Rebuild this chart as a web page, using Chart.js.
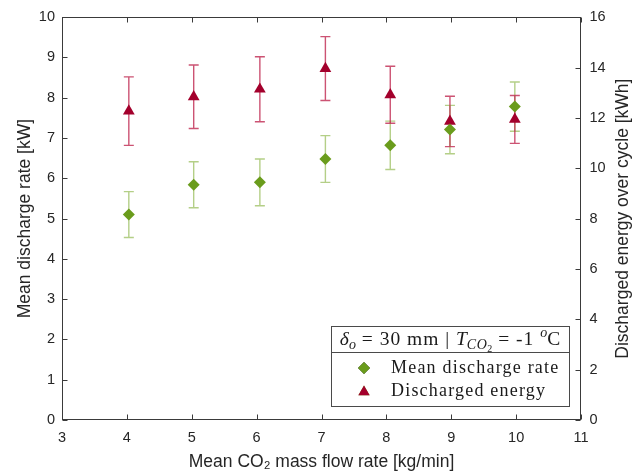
<!DOCTYPE html>
<html><head><meta charset="utf-8">
<script src="https://cdn.jsdelivr.net/npm/chart.js@4.4.1/dist/chart.umd.min.js"></script>
<style>html,body{margin:0;padding:0;background:#fff}#wrap{width:643px;height:476px;position:relative}</style>
</head><body><div id="wrap"><canvas id="c" width="643" height="476"></canvas></div>
<script>
// ---- data ----
const massFlow = [4.03, 5.03, 6.05, 7.06, 8.06, 8.98, 9.98];            // kg/min
const dischargeRate = [5.10, 5.84, 5.90, 6.48, 6.82, 7.21, 7.78];       // kW
const dischargeRateErr = [0.57, 0.57, 0.58, 0.58, 0.60, 0.60, 0.61];
const dischargedEnergy = [12.27, 12.84, 13.14, 13.96, 12.92, 11.86, 11.94]; // kWh
const dischargedEnergyErr = [1.36, 1.26, 1.29, 1.27, 1.13, 1.00, 0.95];
const xTicks = [3, 4, 5, 6, 7, 8, 9, 10, 11];
const yLeftTicks = [0, 1, 2, 3, 4, 5, 6, 7, 8, 9, 10];
const yRightTicks = [0, 2, 4, 6, 8, 10, 12, 14, 16];
const seriesNames = ['Mean discharge rate', 'Discharged energy'];
const rightTitle = 'Discharged energy over cycle [kWh]';

const GREEN = '#6a9c1c', RED = '#a3002c';
const GREEN_ERR = 'rgba(130,175,55,0.6)', RED_ERR = 'rgba(190,35,75,0.78)';
const AXIS = '#3a3a3a', TXT = '#262626';
const SANS = "'Liberation Sans', Arial, sans-serif";
const SERIF = "'Liberation Serif', 'Times New Roman', serif";

const errorBars = {
  id: 'errorBars',
  beforeDatasetsDraw(chart) {
    const ctx = chart.ctx, xs = chart.scales.x;
    chart.data.datasets.forEach((ds) => {
      const ys = chart.scales[ds.yAxisID];
      ctx.save();
      ctx.strokeStyle = ds.errColor; ctx.lineWidth = 1.4;
      ds.data.forEach((p, i) => {
        const e = ds.errors[i];
        const x = xs.getPixelForValue(p.x);
        const y1 = ys.getPixelForValue(p.y + e), y2 = ys.getPixelForValue(p.y - e);
        ctx.beginPath();
        ctx.moveTo(x, y1); ctx.lineTo(x, y2);
        ctx.moveTo(x - 5, y1); ctx.lineTo(x + 5, y1);
        ctx.moveTo(x - 5, y2); ctx.lineTo(x + 5, y2);
        ctx.stroke();
      });
      ctx.restore();
    });
  }
};

const frame = {
  id: 'frame',
  beforeDatasetsDraw(chart) {
    const ctx = chart.ctx, a = chart.chartArea;
    const L = Math.round(a.left) + 0.5, R = Math.round(a.right) - 0.5;
    const T = Math.round(a.top) + 0.5, B = Math.round(a.bottom) - 0.5;
    ctx.save();
    ctx.strokeStyle = AXIS; ctx.lineWidth = 1;
    ctx.strokeRect(L, T, R - L, B - T);
    const tl = 5;
    ctx.beginPath();
    xTicks.forEach(v => {
      const x = Math.round(chart.scales.x.getPixelForValue(v)) + 0.5;
      ctx.moveTo(x, B); ctx.lineTo(x, B - tl);
      ctx.moveTo(x, T); ctx.lineTo(x, T + tl);
    });
    yLeftTicks.forEach(v => {
      const y = Math.round(chart.scales.y.getPixelForValue(v)) + 0.5;
      ctx.moveTo(L, y); ctx.lineTo(L + tl, y);
    });
    yRightTicks.forEach(v => {
      const y = Math.round(chart.scales.y2.getPixelForValue(v)) + 0.5;
      ctx.moveTo(R, y); ctx.lineTo(R - tl, y);
    });
    ctx.stroke();
    // right axis title, reading bottom-to-top like the reference
    ctx.fillStyle = TXT;
    ctx.font = '17.5px ' + SANS;
    ctx.textAlign = 'center'; ctx.textBaseline = 'middle';
    ctx.translate(623, (a.top + a.bottom) / 2);
    ctx.rotate(-Math.PI / 2);
    ctx.fillText(rightTitle, 0, 0);
    ctx.restore();
  }
};

function drawRuns(ctx, runs, x, y, measureOnly) {
  let w = 0;
  runs.forEach(r => {
    ctx.font = (r.it ? 'italic ' : '') + r.size + 'px ' + SERIF;
    ctx.letterSpacing = (r.ls || 0) + 'px';
    const m = ctx.measureText(r.t).width;
    if (!measureOnly) ctx.fillText(r.t, x + w, y + (r.dy || 0));
    w += m;
  });
  ctx.letterSpacing = '0px';
  return w;
}

const legendBox = {
  id: 'legendBox',
  afterDraw(chart) {
    const ctx = chart.ctx, a = chart.chartArea;
    const bx = a.right - 250, by = a.bottom - 94, bw = 238, bh = 80, div = 26;
    ctx.save();
    ctx.fillStyle = '#fff';
    ctx.fillRect(bx, by, bw, bh);
    ctx.strokeStyle = '#4a4a4a'; ctx.lineWidth = 1;
    ctx.strokeRect(Math.round(bx) + 0.5, Math.round(by) + 0.5, bw, bh);
    ctx.beginPath();
    ctx.moveTo(Math.round(bx) + 0.5, Math.round(by + div) + 0.5);
    ctx.lineTo(Math.round(bx + bw) + 0.5, Math.round(by + div) + 0.5);
    ctx.stroke();
    ctx.fillStyle = '#1a1a1a';
    ctx.textBaseline = 'alphabetic';
    const runs = [
      {t: '\u03B4', it: true, size: 19.5},
      {t: 'o', it: true, size: 14, dy: 4},
      {t: ' = 30 mm | ', size: 19.5, ls: 1},
      {t: 'T', it: true, size: 19.5},
      {t: 'CO', it: true, size: 14, dy: 4, ls: 0.5},
      {t: '2', size: 10, dy: 7},
      {t: ' = -1 ', size: 19.5, ls: 1},
      {t: 'o', it: true, size: 14, dy: -8},
      {t: 'C', size: 19.5}
    ];
    const tw = drawRuns(ctx, runs, 0, 0, true);
    drawRuns(ctx, runs, bx + (bw - tw) / 2, by + 19, false);
    ctx.letterSpacing = '1.2px';
    ctx.font = '18px ' + SERIF;
    ctx.fillText(seriesNames[0], bx + 60, by + 47);
    ctx.fillText(seriesNames[1], bx + 60, by + 70);
    ctx.letterSpacing = '0px';
    Chart.helpers.drawPoint(ctx, {pointStyle: 'rectRot', radius: 6, borderWidth: 0}, bx + 33, by + 42);
    ctx.fillStyle = GREEN; ctx.fill();
    Chart.helpers.drawPoint(ctx, {pointStyle: 'triangle', radius: 6.5, borderWidth: 0}, bx + 33, by + 66);
    ctx.fillStyle = RED; ctx.fill();
    ctx.restore();
  }
};

const tickFont = {family: SANS, size: 14.5};
const titleFont = {family: SANS, size: 17.5};

new Chart(document.getElementById('c'), {
  type: 'scatter',
  data: {
    datasets: [
      {
        label: seriesNames[0],
        data: massFlow.map((x, i) => ({x, y: dischargeRate[i]})),
        errors: dischargeRateErr, errColor: GREEN_ERR,
        yAxisID: 'y', pointStyle: 'rectRot', pointRadius: 6, pointHoverRadius: 6,
        backgroundColor: GREEN, borderColor: GREEN, borderWidth: 0
      },
      {
        label: seriesNames[1],
        data: massFlow.map((x, i) => ({x, y: dischargedEnergy[i]})),
        errors: dischargedEnergyErr, errColor: RED_ERR,
        yAxisID: 'y2', pointStyle: 'triangle', pointRadius: 6.8, pointHoverRadius: 6.8,
        backgroundColor: RED, borderColor: RED, borderWidth: 0
      }
    ]
  },
  options: {
    responsive: false, animation: false, devicePixelRatio: 1,
    layout: {padding: {top: 12, left: 0, right: 0, bottom: 0}},
    plugins: {legend: {display: false}, tooltip: {enabled: false}},
    scales: {
      x: {
        type: 'linear', position: 'bottom', min: 3, max: 11,
        afterBuildTicks: s => { s.ticks = xTicks.map(v => ({value: v})); },
        afterFit: s => { s.height = 56; },
        grid: {display: false, drawTicks: false}, border: {display: false},
        ticks: {font: tickFont, color: TXT, padding: 9.5, autoSkip: false, maxRotation: 0},
        title: {display: true, text: 'Mean CO\u2082 mass flow rate [kg/min]', font: titleFont, color: TXT, padding: {top: 0, bottom: 3.5}}
      },
      y: {
        type: 'linear', position: 'left', min: 0, max: 10,
        afterBuildTicks: s => { s.ticks = yLeftTicks.map(v => ({value: v})); },
        afterFit: s => { s.width = 62; },
        grid: {display: false, drawTicks: false}, border: {display: false},
        ticks: {font: tickFont, color: TXT, padding: 7},
        title: {display: true, text: 'Mean discharge rate [kW]', font: titleFont, color: TXT, padding: {top: 14.5, bottom: 0}}
      },
      y2: {
        type: 'linear', position: 'right', min: 0, max: 16,
        afterBuildTicks: s => { s.ticks = yRightTicks.map(v => ({value: v})); },
        afterFit: s => { s.width = 62; },
        grid: {display: false, drawTicks: false}, border: {display: false},
        ticks: {font: tickFont, color: TXT, padding: 8.5},
        title: {display: false}
      }
    }
  },
  plugins: [errorBars, frame, legendBox]
});
</script></body></html>
